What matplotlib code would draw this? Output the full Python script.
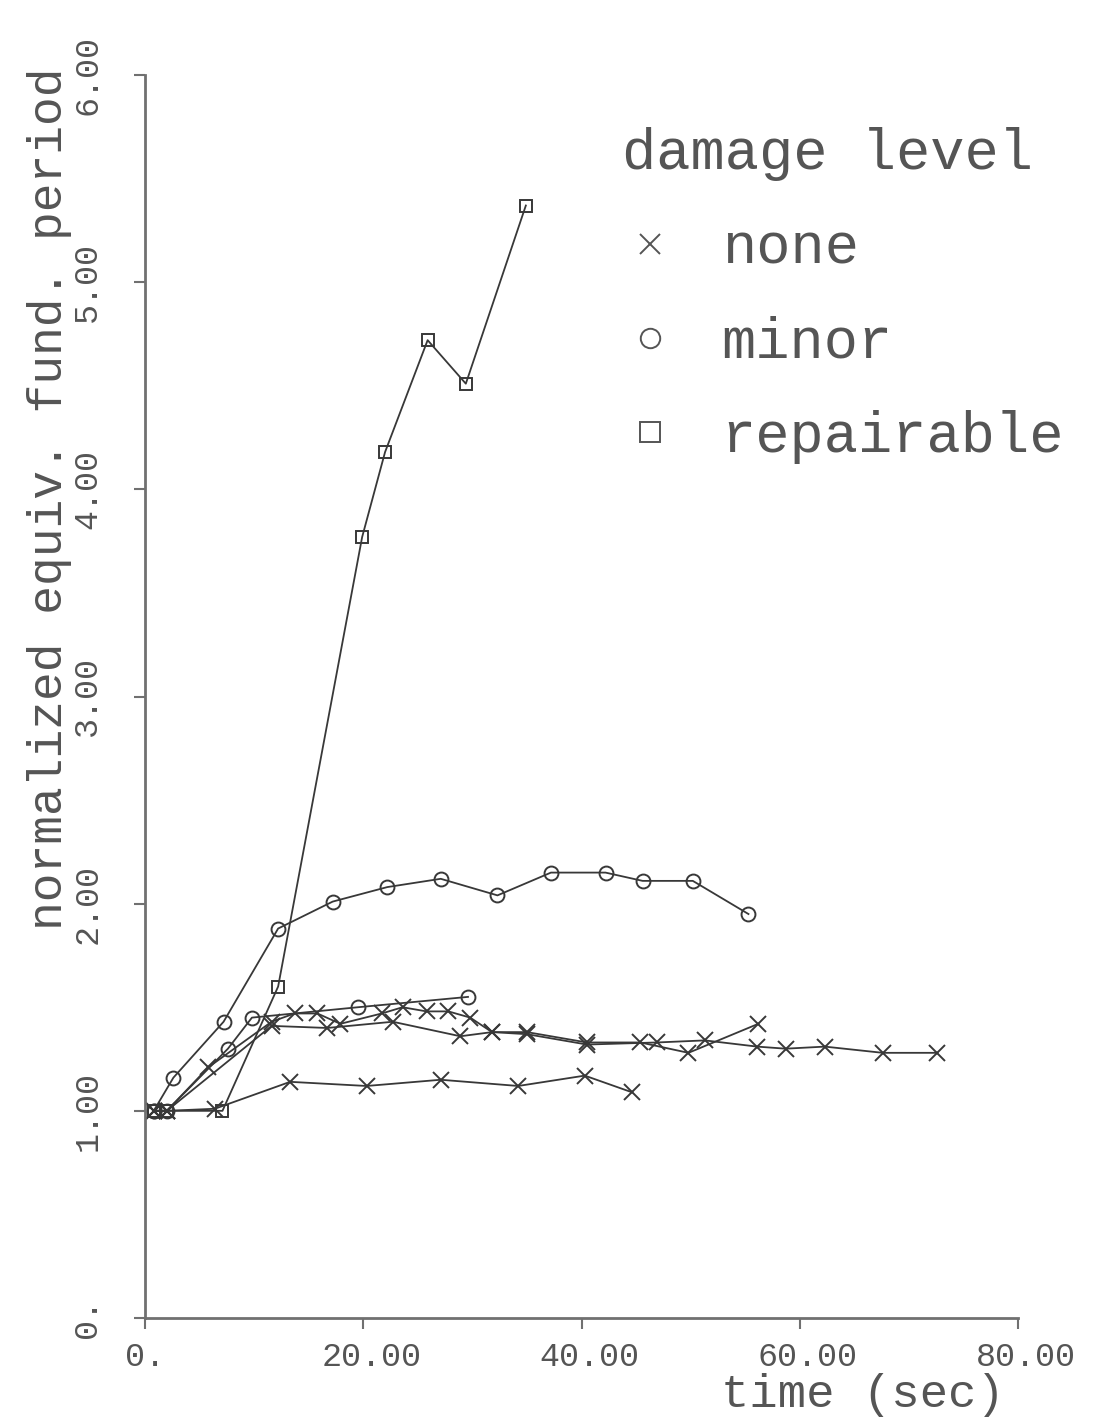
import matplotlib
matplotlib.use("Agg")
import matplotlib.pyplot as plt
import matplotlib.transforms as mtransforms
from matplotlib.lines import Line2D

# --- data (time in sec, normalized period) ---
none_a_t = [0.8, 2.0, 6.4, 13.3, 20.3, 27.1, 34.2, 40.3, 44.6]
none_a_y = [1.00, 1.00, 1.01, 1.14, 1.12, 1.15, 1.12, 1.17, 1.09]

none_b_t = [0.8, 2.0, 5.8, 11.6, 13.7, 15.8, 17.9, 21.7, 23.6, 25.8, 27.8, 29.8,
            31.8, 35.0, 40.5, 45.4, 49.8, 56.2]
none_b_y = [1.00, 1.00, 1.21, 1.43, 1.47, 1.47, 1.42, 1.47, 1.50, 1.48, 1.48, 1.45,
            1.38, 1.38, 1.33, 1.33, 1.28, 1.42]

none_c_t = [0.8, 2.0, 11.6, 16.7, 22.7, 28.9, 31.8, 35.0, 40.5, 46.9, 51.3, 56.1,
            58.7, 62.3, 67.6, 72.6]
none_c_y = [1.00, 1.00, 1.41, 1.40, 1.43, 1.36, 1.38, 1.37, 1.32, 1.33, 1.34, 1.31,
            1.30, 1.31, 1.28, 1.28]

minor_a_t = [0.8, 2.6, 7.2, 12.2, 17.2, 22.2, 27.1, 32.3, 37.2, 42.2, 45.6, 50.2, 55.3]
minor_a_y = [1.00, 1.16, 1.43, 1.88, 2.01, 2.08, 2.12, 2.04, 2.15, 2.15, 2.11, 2.11, 1.95]

minor_b_t = [0.8, 2.0, 7.6, 9.8, 19.5, 29.6]
minor_b_y = [1.00, 1.00, 1.30, 1.45, 1.50, 1.55]

repair_t = [0.8, 2.0, 7.1, 12.2, 19.9, 22.0, 25.9, 29.4, 34.9]
repair_y = [1.00, 1.00, 1.00, 1.60, 3.77, 4.18, 4.72, 4.51, 5.37]

x_ticks = [0, 20, 40, 60, 80]
x_ticklabels = ["0.", "20.00", "40.00", "60.00", "80.00"]
y_ticks = [0, 1, 2, 3, 4, 5, 6]
y_ticklabels = ["0.", "1.00", "2.00", "3.00", "4.00", "5.00", "6.00"]

legend_labels = ["none", "minor", "repairable"]

TEXT = "#555555"
LINE = "#383838"
AXIS = "#707070"

plt.rcParams["font.family"] = ["Liberation Mono", "DejaVu Sans Mono"]

fig = plt.figure(figsize=(10.97, 14.18), dpi=100)
ax = fig.add_axes([145 / 1097, 100 / 1418, 873 / 1097, 1243 / 1418])

line_kw = dict(color=LINE, lw=1.3, mec=LINE, mfc="none", mew=1.4)
ax.plot(none_a_t, none_a_y, marker="x", ms=11, **line_kw)
ax.plot(none_b_t, none_b_y, marker="x", ms=11, **line_kw)
ax.plot(none_c_t, none_c_y, marker="x", ms=11, **line_kw)
ax.plot(minor_a_t, minor_a_y, marker="o", ms=10, **line_kw)
ax.plot(minor_b_t, minor_b_y, marker="o", ms=10, **line_kw)
ax.plot(repair_t, repair_y, marker="s", ms=9, **line_kw)

ax.set_xlim(0, 80)
ax.set_ylim(0, 6)
ax.set_xticks(x_ticks, x_ticklabels)
ax.set_yticks(y_ticks, y_ticklabels)

for spine in ("top", "right"):
    ax.spines[spine].set_visible(False)
for spine in ("left", "bottom"):
    ax.spines[spine].set_color(AXIS)
    ax.spines[spine].set_linewidth(2)

ax.tick_params(axis="both", direction="out", length=8, width=1.5, color=AXIS,
               labelcolor=TEXT, labelsize=24)
ax.tick_params(axis="x", pad=9)
ax.tick_params(axis="y", pad=22, labelrotation=90)
for lab in ax.get_yticklabels():
    lab.set_verticalalignment("center")

# the old plotter drew x labels a bit right of the tick marks
dx = mtransforms.ScaledTranslation(8 / 100, 0, fig.dpi_scale_trans)
for lab in ax.get_xticklabels()[1:]:
    lab.set_transform(lab.get_transform() + dx)

ax.set_xlabel("time (sec)", fontsize=34, color=TEXT, ha="right", va="center")
ax.xaxis.set_label_coords(0.985, -0.062)
ax.set_ylabel("normalized equiv. fund. period", fontsize=34.5, color=TEXT,
              ha="right", va="center")
ax.yaxis.set_label_coords(-0.109, 1.006)

handles = [Line2D([], [], ls="none", marker=m, ms=s, mec=TEXT, mfc="none", mew=1.4)
           for m, s in (("x", 14), ("o", 14), ("s", 14))]
leg = ax.legend(handles, legend_labels, title="damage level", loc="upper left",
                bbox_to_anchor=(622 / 1097, 1 - 127 / 1418), bbox_transform=fig.transFigure,
                frameon=False, prop={"size": 41}, title_fontsize=41, labelcolor=TEXT,
                handlelength=1.0, handletextpad=0.75, labelspacing=0.71,
                borderpad=0, borderaxespad=0, alignment="left")
leg.get_title().set_color(TEXT)

fig.savefig("out.png", dpi=100)
